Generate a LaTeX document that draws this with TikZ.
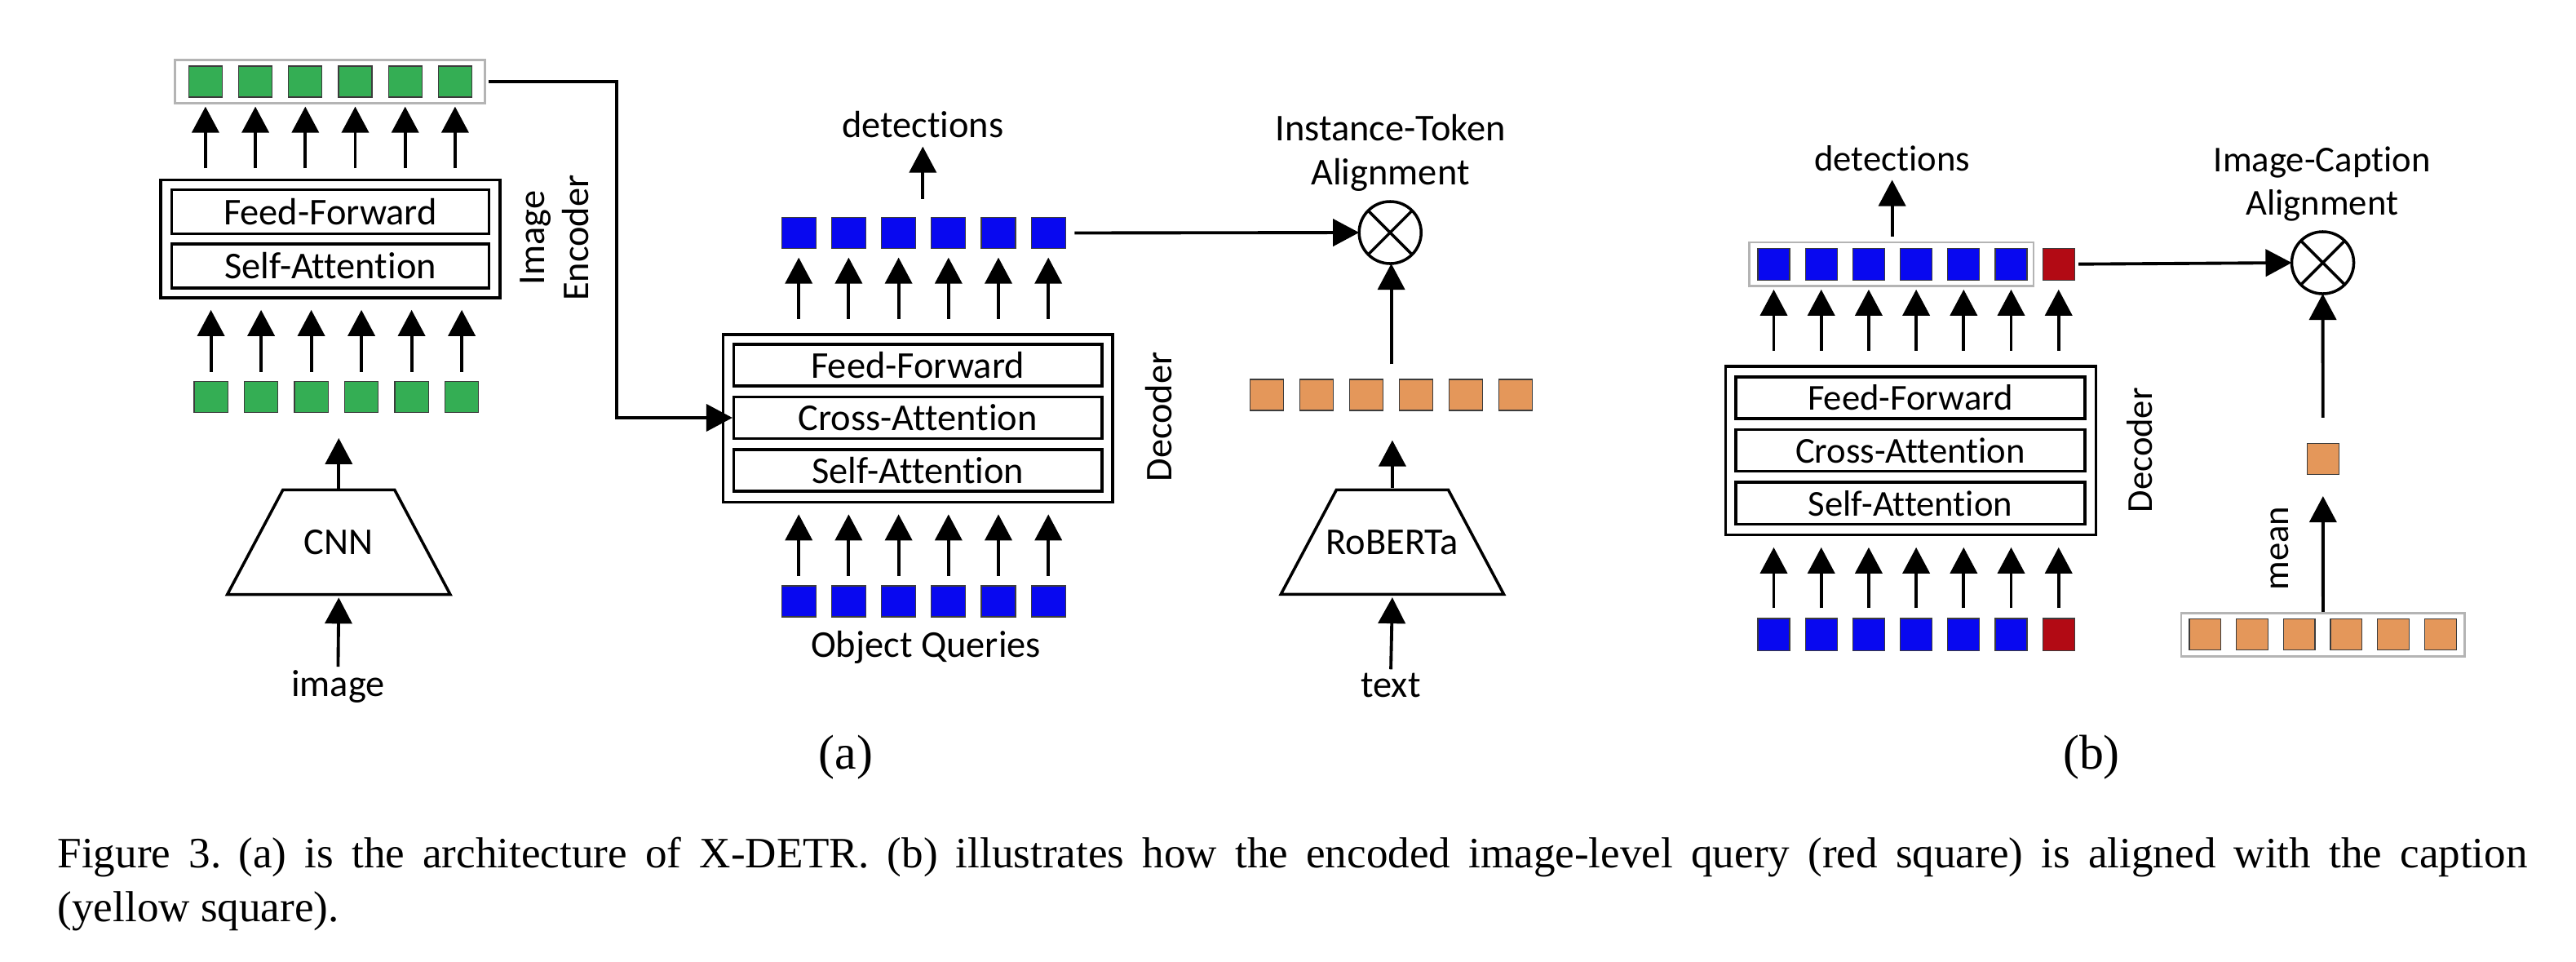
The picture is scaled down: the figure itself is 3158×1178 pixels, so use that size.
\documentclass[tikz,border=0pt]{standalone}
\usepackage{fontspec}
\setmainfont{Liberation Serif}
\newfontfamily\calib[Ligatures=NoCommon]{Carlito}
\usetikzlibrary{arrows.meta,shapes.geometric,calc}
\definecolor{sqgreen}{RGB}{52,174,84}
\definecolor{sqblue}{RGB}{8,8,240}
\definecolor{sqorange}{RGB}{228,151,90}
\definecolor{sqred}{RGB}{178,10,20}
\definecolor{framegrey}{RGB}{180,180,180}
\definecolor{sqedge}{RGB}{60,60,60}

\begin{document}
\begin{tikzpicture}[x=0.01cm,y=-0.01cm]
	\tikzstyle{every node}+=[inner sep=0pt]
	\tikzstyle{tok}=[draw=sqedge,line width=0.35pt,minimum width=0.41cm,minimum height=0.38cm]
	\tikzstyle{bar}=[draw=framegrey,line width=0.8pt,minimum height=0.535cm]
	\tikzstyle{blk}=[draw,line width=1pt]
	\tikzstyle{layer}=[draw,line width=1pt,font=\calib\fontsize{13.2}{15.5}\selectfont]
	\tikzstyle{layerb}=[draw,line width=1pt,font=\calib\fontsize{12.7}{15}\selectfont]
	\tikzstyle{arr}=[line width=1.1pt,-{Triangle[length=0.32cm,width=0.33cm]}]
	\tikzstyle{lbl}=[font=\calib\fontsize{13.2}{15.5}\selectfont,align=center]
	\tikzstyle{lblb}=[font=\calib\fontsize{12.7}{15}\selectfont,align=center]
	\tikzstyle{net}=[draw,line width=1pt,trapezium,trapezium angle=62,text width=1.37cm,text height=1.28cm,text depth=0pt]
	\tikzstyle{prod}=[draw,circle,line width=1pt,outer sep=0pt,minimum size=0.76cm]

	\useasboundingbox (0,0) rectangle (3158,1178);

	\node[bar,minimum width=3.8cm] (encbar) at (404.4,100) {};
	\node[blk,minimum width=4.16cm,minimum height=1.443cm] (enc) at (405,292.9) {};
	\node[layer,minimum width=3.89cm,minimum height=0.54cm] (encff) at (405,259.7) {Feed-Forward};
	\node[layer,minimum width=3.89cm,minimum height=0.54cm] (encsa) at (405,326) {Self-Attention};
	\node[lbl,rotate=90] (enclbl) at (680,291.7) {Image\\Encoder};
	\foreach \i in {0,...,5} {
		\node[tok,fill=sqgreen] (eo\i) at (251.9+61.2*\i,100) {};
		\node[tok,fill=sqgreen] (ei\i) at (258.6+61.5*\i,486.3) {};
		\draw[arr,shorten <=0.127cm,shorten >=0.11cm] (eo\i.south |- enc.north) -- (eo\i.south);
		\draw[arr,shorten <=0.11cm,shorten >=0.13cm] (ei\i.north) -- (ei\i.north |- enc.south);
	}
	\node[net,label={[lbl]center:CNN}] (cnn) at (415.3,664.5) {};
	\node[lbl] (imgtxt) at (414.4,841.7) {image};
	\draw[arr,shorten <=0.04cm,shorten >=0.02cm] (imgtxt.north) -- (cnn.south);
	\draw[arr,shorten >=0.31cm] (cnn.north) -- (cnn.north |- ei0.south);
	\coordinate (encturn) at (756,300);

	\node[blk,minimum width=4.776cm,minimum height=2.056cm] (dec) at (1125.2,512.7) {};
	\node[layer,minimum width=4.508cm,minimum height=0.51cm] (dff) at (1125.2,447.5) {Feed-Forward};
	\node[layer,minimum width=4.508cm,minimum height=0.51cm] (dca) at (1125.2,512) {Cross-Attention};
	\node[layer,minimum width=4.508cm,minimum height=0.51cm] (dsa) at (1125.2,576.4) {Self-Attention};
	\draw[arr,shorten <=0.03cm] (encbar.east) -| (encturn) |- (dca.west);
	\node[lbl,rotate=90] (declbl) at (1420.2,511) {Decoder};
	\foreach \i in {0,...,5} {
		\node[tok,fill=sqblue,minimum width=0.42cm] (dq\i) at (979.2+61.2*\i,285.5) {};
		\node[tok,fill=sqblue,minimum width=0.42cm] (oq\i) at (979.2+61.2*\i,737) {};
		\draw[arr,shorten <=0.172cm,shorten >=0.105cm] (dq\i.south |- dec.north) -- (dq\i.south);
		\draw[arr,shorten <=0.115cm,shorten >=0.13cm] (oq\i.north) -- (oq\i.north |- dec.south);
	}
	\node[lbl] (oqtxt) at (1135,793.4) {Object Queries};
	\node[lbl] (dettxt) at (1131.3,152.6) {detections};
	\coordinate (detfoot) at (1131.3,243.5);
	\draw[arr,shorten >=0.1cm] (detfoot) -- (dettxt.south);

	\node[prod] (ota) at (1704.2,285) {};
	\draw[line width=1pt] (ota.45) -- (ota.225) (ota.135) -- (ota.315);
	\draw[arr,shorten <=0.105cm] (dq5.east) -- (ota.west);
	\node[lbl] (itatxt) at (1704.5,187.5) {Instance-Token\\Alignment};
	\foreach \i in {0,...,5}
		\node[tok,fill=sqorange] (tk\i) at (1553.1+61*\i,483.9) {};
	\coordinate (tkmid) at ($(tk2.north)!0.5!(tk3.north)$);
	\draw[arr,shorten <=0.18cm] (tkmid) -- (tkmid |- ota.south);
	\node[net,label={[lbl]center:RoBERTa}] (rob) at (1706.9,664.3) {};
	\node[lbl] (txttxt) at (1705,839.8) {text};
	\draw[arr,shorten <=0.04cm,shorten >=0.02cm] (txttxt.north) -- (rob.south);
	\draw[arr,shorten >=0.36cm] (rob.north) -- (rob.north |- tk0.south);

	\node[bar,minimum width=3.482cm] (detbar) at (2318.8,323.7) {};
	\node[blk,minimum width=4.535cm,minimum height=2.066cm] (decb) at (2342.4,552.3) {};
	\node[layerb,minimum width=4.275cm,minimum height=0.512cm] (bff) at (2342,487.5) {Feed-Forward};
	\node[layerb,minimum width=4.275cm,minimum height=0.512cm] (bca) at (2342,552.1) {Cross-Attention};
	\node[layerb,minimum width=4.275cm,minimum height=0.512cm] (bsa) at (2342,616.7) {Self-Attention};
	\node[lblb,rotate=90] (declblb) at (2622.7,551.7) {Decoder};
	\foreach \i/\c in {0/sqblue,1/sqblue,2/sqblue,3/sqblue,4/sqblue,5/sqblue,6/sqred} {
		\node[tok,fill=\c,minimum width=0.39cm,minimum height=0.39cm] (bq\i) at (2174.5+58.2*\i,323.7) {};
		\node[tok,fill=\c,minimum width=0.39cm,minimum height=0.39cm] (bi\i) at (2174.5+58.2*\i,777.6) {};
		\draw[arr,shorten <=0.172cm,shorten >=0.11cm] (bq\i.south |- decb.north) -- (bq\i.south);
		\draw[arr,shorten <=0.12cm,shorten >=0.134cm] (bi\i.north) -- (bi\i.north |- decb.south);
	}
	\node[lblb] (dettxtb) at (2319.6,194.1) {detections};
	\coordinate (detfootb) at (2319.6,289.8);
	\draw[arr,shorten >=0.1cm] (detfootb) -- (dettxtb.south);

	\node[prod] (otb) at (2847.5,322) {};
	\draw[line width=1pt] (otb.45) -- (otb.225) (otb.135) -- (otb.315);
	\draw[arr,shorten <=0.042cm] (bq6.east) -- (otb.west);
	\node[lblb] (ictxt) at (2846.7,225.2) {Image-Caption\\Alignment};
	\node[tok,fill=sqorange,minimum width=0.39cm] (capsq) at (2847.8,562.4) {};
	\node[bar,minimum width=3.477cm] (capbar) at (2847.9,778) {};
	\foreach \i in {0,...,5}
		\node[tok,fill=sqorange,minimum width=0.387cm,minimum height=0.382cm] (ct\i) at (2703.3+57.7*\i,777.6) {};
	\draw[arr,shorten >=0.26cm] (capbar.north) -- (capsq.south);
	\draw[arr,shorten <=0.31cm] (capsq.north) -- (otb.south);
	\node[lblb,rotate=90] (meantxt) at (2795,672) {mean};

	\node[font=\fontsize{17}{20}\selectfont] (suba) at (1037,928) {(a)};
	\node[font=\fontsize{17}{20}\selectfont] (subb) at (2564,928) {(b)};
	\node[anchor=north west,text width=30.26cm,align=justify,font=\fontsize{15.1}{18.8}\selectfont] (figcap) at (70,1025) {Figure 3.\hspace{0.4em}(a) is the architecture of X-DETR. (b) illustrates how the encoded image-level query (red square) is aligned with the caption\linebreak (yellow square).};
\end{tikzpicture}
\end{document}
